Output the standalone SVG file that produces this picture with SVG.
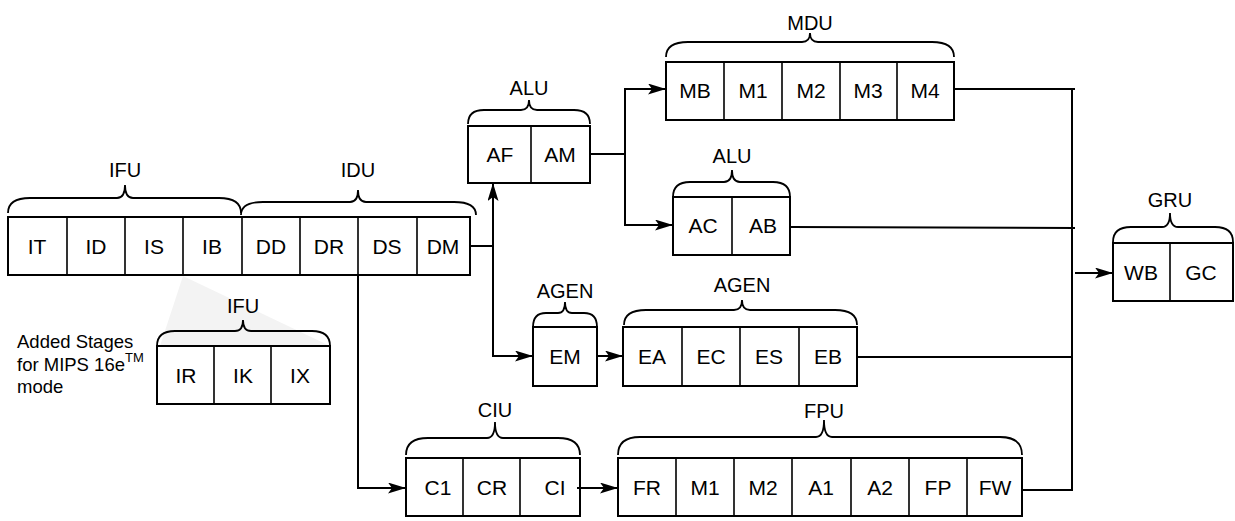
<svg xmlns="http://www.w3.org/2000/svg" width="1235" height="521" viewBox="0 0 1235 521">
<style>
.box{fill:#fff;stroke:#000;stroke-width:2}
.div{stroke:#000;stroke-width:1.6}
.br{fill:none;stroke:#000;stroke-width:1.8}
.ln{fill:none;stroke:#000;stroke-width:2}
text{font-family:"Liberation Sans",Arial,sans-serif;fill:#000}
.c{font-size:21px;text-anchor:middle}
.u{font-size:20px;text-anchor:middle}
.s{font-size:18.5px}
</style>
<defs>
<marker id="ah" viewBox="0 0 18 11" refX="18" refY="5.5" markerWidth="18" markerHeight="11" markerUnits="userSpaceOnUse" orient="auto"><path d="M0,0 L18,5.5 L0,11 L4,5.5 z" fill="#000"/></marker>
</defs>
<rect width="1235" height="521" fill="#fff"/>
<polygon points="183,276 160,346 330,346" fill="#f3f3f3"/>

<g id="ifu-idu">
<rect class="box" x="8" y="217" width="462" height="58"/>
<path class="div" d="M67,217V275M125,217V275M183,217V275M242,217V275M300,217V275M358,217V275M417,217V275"/>
<text class="c" x="37" y="254">IT</text><text class="c" x="96" y="254">ID</text><text class="c" x="154" y="254">IS</text><text class="c" x="212" y="254">IB</text>
<text class="c" x="271" y="254">DD</text><text class="c" x="329" y="254">DR</text><text class="c" x="387" y="254">DS</text><text class="c" x="443" y="254">DM</text>
<path class="br" d="M8,213 Q8,198 30,198 L117,198 Q125,198 125,185 Q125,198 133,198 L219,198 Q241,198 241,213"/>
<text class="u" x="125" y="177">IFU</text>
<path class="br" d="M241,215 Q241,202 263,202 L350,202 Q358,202 358,190 Q358,202 366,202 L454,202 Q476,202 476,215"/>
<text class="u" x="358" y="177">IDU</text>
</g>

<g id="ifu16">
<rect class="box" x="157" y="346" width="173" height="58"/>
<path class="div" d="M214,346V404M271,346V404"/>
<text class="c" x="186" y="383">IR</text><text class="c" x="243" y="383">IK</text><text class="c" x="300" y="383">IX</text>
<path class="br" d="M157,346 Q157,331 175,331 L235,331 Q243,331 243,320 Q243,331 251,331 L312,331 Q330,331 330,346"/>
<text class="u" x="243" y="313">IFU</text>
<text class="s" x="17" y="348">Added Stages</text>
<text class="s" x="17" y="371">for MIPS 16e<tspan font-size="13" dy="-9">TM</tspan></text>
<text class="s" x="17" y="393">mode</text>
</g>

<g id="alu1">
<rect class="box" x="468" y="126" width="122" height="57"/>
<path class="div" d="M531,126V183"/>
<text class="c" x="500" y="162">AF</text><text class="c" x="560" y="162">AM</text>
<path class="br" d="M468,124 Q468,110 484,110 L521,110 Q529,110 529,100 Q529,110 537,110 L574,110 Q590,110 590,124"/>
<text class="u" x="529" y="95">ALU</text>
</g>

<g id="mdu">
<rect class="box" x="666" y="62" width="288" height="58"/>
<path class="div" d="M724,62V120M782,62V120M840,62V120M897,62V120"/>
<text class="c" x="695" y="98">MB</text><text class="c" x="753" y="98">M1</text><text class="c" x="811" y="98">M2</text><text class="c" x="868" y="98">M3</text><text class="c" x="925" y="98">M4</text>
<path class="br" d="M666,57 Q666,42 688,42 L802,42 Q810,42 810,33 Q810,42 818,42 L932,42 Q954,42 954,57"/>
<text class="u" x="810" y="30">MDU</text>
</g>

<g id="alu2">
<rect class="box" x="673" y="197" width="117" height="58"/>
<path class="div" d="M732,197V255"/>
<text class="c" x="703" y="233">AC</text><text class="c" x="763" y="233">AB</text>
<path class="br" d="M673,197 Q673,182 690,182 L724,182 Q732,182 732,170 Q732,182 740,182 L773,182 Q790,182 790,197"/>
<text class="u" x="732" y="163">ALU</text>
</g>

<g id="agen1">
<rect class="box" x="533" y="327" width="64" height="59"/>
<text class="c" x="565" y="364">EM</text>
<path class="br" d="M533,327 Q533,313 546,313 L558,313 Q565,313 565,302 Q565,313 572,313 L584,313 Q597,313 597,327"/>
<text class="u" x="565" y="298">AGEN</text>
</g>

<g id="agen2">
<rect class="box" x="623" y="327" width="234" height="59"/>
<path class="div" d="M682,327V386M740,327V386M799,327V386"/>
<text class="c" x="652" y="364">EA</text><text class="c" x="711" y="364">EC</text><text class="c" x="769" y="364">ES</text><text class="c" x="828" y="364">EB</text>
<path class="br" d="M624,325 Q624,310 646,310 L734,310 Q742,310 742,300 Q742,310 750,310 L835,310 Q857,310 857,325"/>
<text class="u" x="742" y="292">AGEN</text>
</g>

<g id="ciu">
<rect class="box" x="406" y="458" width="174" height="58"/>
<path class="div" d="M463,458V516M520,458V516"/>
<text class="c" x="438" y="495">C1</text><text class="c" x="492" y="495">CR</text><text class="c" x="555" y="495">CI</text>
<path class="br" d="M406,455 Q406,438 428,438 L487,438 Q495,438 495,422 Q495,438 503,438 L558,438 Q580,438 580,455"/>
<text class="u" x="495" y="417">CIU</text>
</g>

<g id="fpu">
<rect class="box" x="618" y="458" width="404" height="58"/>
<path class="div" d="M676,458V516M734,458V516M792,458V516M851,458V516M909,458V516M967,458V516"/>
<text class="c" x="647" y="495">FR</text><text class="c" x="705" y="495">M1</text><text class="c" x="763" y="495">M2</text><text class="c" x="821" y="495">A1</text><text class="c" x="880" y="495">A2</text><text class="c" x="938" y="495">FP</text><text class="c" x="995" y="495">FW</text>
<path class="br" d="M618,455 Q618,437 640,437 L816,437 Q824,437 824,420 Q824,437 832,437 L1000,437 Q1022,437 1022,455"/>
<text class="u" x="824" y="418">FPU</text>
</g>

<g id="gru">
<rect class="box" x="1113" y="243" width="120" height="58"/>
<path class="div" d="M1170,243V301"/>
<text class="c" x="1141" y="280">WB</text><text class="c" x="1201" y="280" font-size="18">GC</text>
<path class="br" d="M1113,242 Q1113,227 1131,227 L1162,227 Q1170,227 1170,213 Q1170,227 1178,227 L1215,227 Q1233,227 1233,242"/>
<text class="u" x="1170" y="207">GRU</text>
</g>

<g id="connectors">
<path class="ln" d="M470,246 H493"/>
<path class="ln" d="M493,356 V183" marker-end="url(#ah)"/>
<path class="ln" d="M493,246 V356 H533" marker-end="url(#ah)"/>
<path class="ln" d="M590,154 H625 V89 H666" marker-end="url(#ah)"/>
<path class="ln" d="M625,154 V225 H673" marker-end="url(#ah)"/>
<path class="ln" d="M597,356 H623" marker-end="url(#ah)"/>
<path class="ln" d="M358,275 V488 H406" marker-end="url(#ah)"/>
<path class="ln" d="M577,488 H618" marker-end="url(#ah)"/>
<path class="ln" d="M954,89 H1075"/>
<path class="ln" d="M790,227 L1075,228"/>
<path class="ln" d="M857,357 H1073"/>
<path class="ln" d="M1022,490 H1073"/>
<path class="ln" d="M1072,88 V490"/>
<path class="ln" d="M1075,273 H1113" marker-end="url(#ah)"/>
</g>
</svg>
